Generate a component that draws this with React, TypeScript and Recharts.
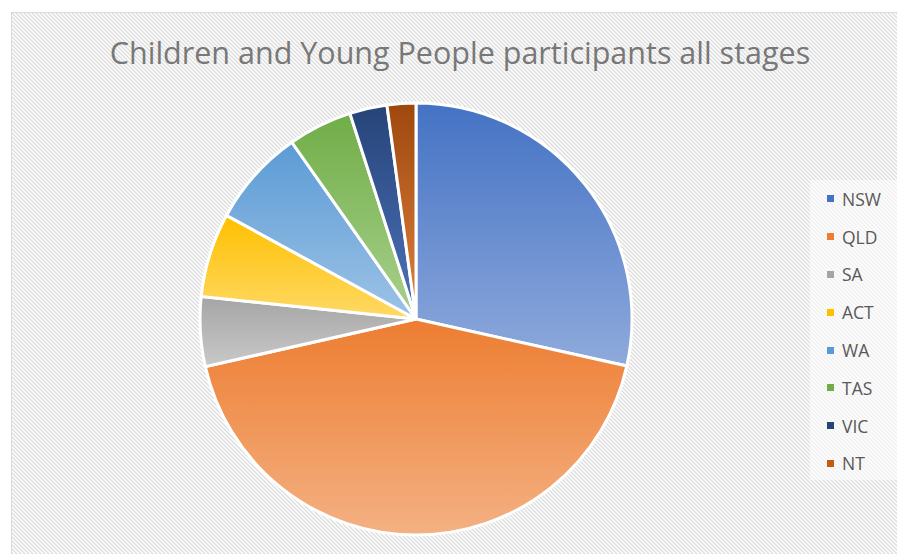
import React from "react";
import { PieChart, Pie, Cell, Legend } from "recharts";

const categories = ["NSW", "QLD", "SA", "ACT", "WA", "TAS", "VIC", "NT"];
const participants = [28.5, 43.0, 5.2, 6.3, 7.3, 4.8, 2.8, 2.15];
const colorsTop = ["#4472C4", "#ED7D31", "#A5A5A5", "#FFC000", "#5B9BD5", "#70AD47", "#264478", "#9E480E"];
const colorsBottom = ["#8FAADC", "#F4B183", "#C9C9C9", "#FFD966", "#9DC3E6", "#A9D18E", "#4F73BC", "#E0823F"];
const legendColors = ["#4472C4", "#ED7D31", "#A5A5A5", "#FFC000", "#5B9BD5", "#70AD47", "#264478", "#C55A11"];

const data = categories.map((name, i) => ({ name, value: participants[i] }));

const W = 886;
const H = 542;

const hatch =
  "url(\"data:image/svg+xml;utf8," +
  encodeURIComponent(
    "<svg xmlns='http://www.w3.org/2000/svg' width='4' height='4'><rect width='4' height='4' fill='#ffffff'/><path d='M-1,-1 L5,5 M-1,3 L1,5 M3,-1 L5,1' stroke='#dcdcdc' stroke-width='1.3'/></svg>"
  ) +
  "\")";

const renderLegend = () => (
  <div
    style={{
      width: 87,
      height: 300,
      background: "rgba(255,255,255,0.55)",
      boxSizing: "border-box",
      paddingTop: 0,
      paddingLeft: 17,
    }}
  >
    {categories.map((c, i) => (
      <div
        key={c}
        style={{
          height: 37.8,
          display: "flex",
          alignItems: "center",
          fontFamily: "'Open Sans', sans-serif",
          fontSize: 17.5,
          color: "#595959",
        }}
      >
        <span
          style={{
            display: "inline-block",
            width: 7,
            height: 7,
            background: legendColors[i],
            marginRight: 8,
          }}
        />
        {c}
      </div>
    ))}
  </div>
);

export default function App() {
  return (
    <div
      style={{
        position: "absolute",
        left: 11,
        top: 12,
        width: W,
        height: H,
        boxSizing: "border-box",
        borderLeft: "1px solid #d9d9d9",
        borderTop: "1px solid #d9d9d9",
        backgroundImage: hatch,
        backgroundRepeat: "repeat",
        overflow: "hidden",
      }}
    >
      <div
        style={{
          position: "absolute",
          left: 0,
          top: 18,
          width: 896,
          textAlign: "center",
          fontFamily: "'Open Sans', sans-serif",
          fontSize: 30.5,
          color: "#787878",
          whiteSpace: "nowrap",
        }}
      >
        Children and Young People participants all stages
      </div>
      <PieChart width={W - 1} height={H - 1} style={{ position: "absolute", left: 0, top: 0 }}>
        <defs>
          {categories.map((c, i) => (
            <linearGradient key={c} id={`grad-${i}`} x1="0" y1="0" x2="0" y2="1">
              <stop offset="0%" stopColor={colorsTop[i]} />
              <stop offset="100%" stopColor={colorsBottom[i]} />
            </linearGradient>
          ))}
        </defs>
        <Pie
          data={data}
          dataKey="value"
          nameKey="name"
          cx={399}
          cy={301}
          outerRadius={216}
          startAngle={90}
          endAngle={-270}
          stroke="#ffffff"
          strokeWidth={3}
          isAnimationActive={false}
        >
          {data.map((d, i) => (
            <Cell key={d.name} fill={`url(#grad-${i})`} />
          ))}
        </Pie>
        <Legend
          content={renderLegend}
          wrapperStyle={{ position: "absolute", left: 798, top: 167, width: 87, height: 300 }}
        />
      </PieChart>
    </div>
  );
}
